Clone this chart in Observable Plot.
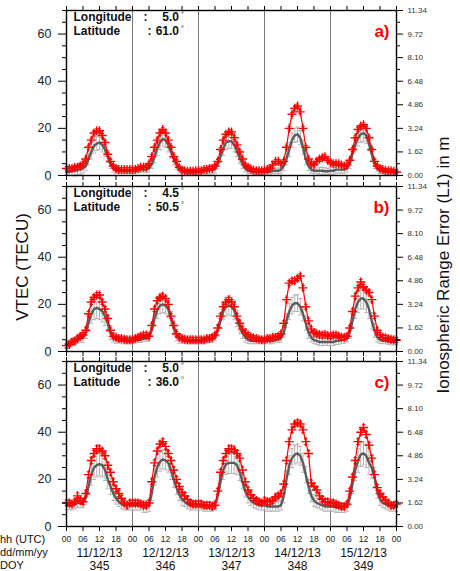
<!DOCTYPE html>
<html><head><meta charset="utf-8">
<script src="https://cdn.jsdelivr.net/npm/d3@7"></script>
<script src="https://cdn.jsdelivr.net/npm/@observablehq/plot@0.6"></script>
<style>
html,body{margin:0;padding:0;background:#fff;}
#wrap{position:relative;width:460px;height:571px;overflow:hidden;background:#fff;font-family:"Liberation Sans",Arial,sans-serif;}
.pn{position:absolute;left:0;}
.pn svg{overflow:visible;}
#ov{position:absolute;left:0;top:0;pointer-events:none;}
</style></head><body><div id="wrap"></div>
<script>
// ---------- DATA (hourly, 5 days: 11/12/13 00UTC .. 16/12/13 00UTC) ----------
const aRed = [
 3,3,3,3.5,3.5,4,5,7, 12,15,18,19,19,17,14,9, 6,4,3,2.5,2.5,2.5,2.5,2.5,
 2.5,2.5,3,3.5,3.5,3.5,5,8, 12,15,18,19.5,18,15,12,8, 6,3.5,2.2,2,1.8,1.8,1.8,2,
 2,2,2.5,2.5,3,3,4,6, 11,15,17.5,18.5,18.5,16,13,10, 7,4.5,3.5,2.8,2.2,2,2,2,
 2.2,2.5,3,4.5,6,6,5,6, 12,20,26,28.5,29.5,27,20,12, 7,5,4.5,6,7,7.5,8,6.5,
 5.5,5,5,5,4.5,4,4.5,6.5, 11,16,19.5,21,21.5,20,16,11, 6,4,3,2.5,2.2,2,2,1.8,
 1.5];
const aGray = [
 1.5,1.5,2,2,2.5,2.5,3,4, 7,10,12.5,13.5,14,13,11,8, 5,3,2,1.8,1.8,1.8,1.8,1.8,
 1.8,2,2.2,2.5,2.5,2.5,3,5, 8,11.5,14,15.5,15,13,10,7, 4.5,2.5,1.8,1.5,1.5,1.5,1.5,1.5,
 1.5,1.5,2,2,2.5,2.5,3,5, 8,11.5,14,14.5,14.5,13,10.5,7.5, 5,3,2,1.8,1.5,1.5,1.5,1.5,
 1.5,1.5,1.5,2,2,2,2.5,4, 7,11,15,17,17.5,16,12,7, 4,2.5,2,2,2,2,1.8,1.8,
 2,2,2.5,2.5,2.5,2.5,3,5, 9,13,16,17.5,18,17,13.5,9, 5,3,2,1.8,1.5,1.5,1.5,1.5,
 1.5];
const aStd = [
 1.2,1.5,2,2.2,2.2,2,2,2, 2.5,3,3,3,3,3,3,2.5, 2,1.5,1.2,1,1,1,1,1,
 1,1,1,1.2,1.2,1.2,1.5,2, 2.5,3,3,3,3,3,2.5,2.5, 2,1.5,1,1,1,1,1,1,
 1,1,1.2,1.5,1.8,1.8,2,2.2, 2.5,3,3,3,3,3,2.5,2.5, 2,1.5,1.2,1,1,1,1,1,
 1,1,1,1.2,1.2,1.2,1.5,2, 2.5,3,3,3,3,3,3,2.5, 2,1.5,1.2,1.2,1.5,1.5,1.5,1.2,
 1.5,1.5,1.5,1.5,1.5,1.5,1.5,2, 2.5,3,3.5,3.5,3.5,3.5,3,2.5, 2,1.5,1.2,1,1,1,1,1,
 1];
const bRed = [
 2.5,3,4,4.5,5.5,6.5,7,9, 16,21,23,24,24,21,18,14, 9,6.5,6,5.5,5.5,5.2,5,5,
 5,5.5,6,6.5,7,7,6.5,11, 18,21.5,23,23.5,22.5,20,15,11, 7.5,6,5.5,5.2,5,5,5,5,
 5,5,5,5.5,5.5,6,7,10, 15,19,21,22,21,19,15,12, 9.5,8,7,6.2,5.8,5.5,5.2,5,
 5,5.5,5.5,6,6,6.5,7.5,12, 22,29,30,30,31,32,27,19, 13,9.5,8,7.5,7.2,7,7.2,6.8,
 6.5,7,7,6.5,6,6,6.5,10, 17,23.5,27,29.5,27.5,26,25,22, 15,9,7,6,5.8,5.5,5.2,5,
 4.8];
const bGray = [
 3,3.5,4,4.5,5,5.5,6,8, 12,16,18,18.5,18,17,15,12, 8,6,5,4.8,4.5,4.5,4.5,4.5,
 4.5,4.8,5,5,5.5,5.5,6,9, 14,17.5,19.5,20,19.5,18,14,10, 7,5.5,5,4.5,4.5,4.5,4.5,4.5,
 4.5,4.5,4.5,4.8,5,5,6,9, 13,17,19,19.5,19,17.5,14,10.5, 8,6,5,4.5,4.5,4.5,4.5,4.5,
 4.5,4.5,4.5,4.5,5,5,5.5,8, 13,17,19.5,20.5,20.5,19,16,12, 8,6,4.8,4.5,4,4,4,4,
 4,4,4.5,4.5,5,5,5.5,8, 13,18,21,22.5,22.5,21,18,13, 9,6,5,4.5,4.5,4.2,4,4,
 4];
const bStd = [
 1.5,1.5,1.5,1.5,1.5,1.5,2,2.5, 3.5,4,4.5,4.5,4.5,4.5,4,3.5, 3,2,1.5,1.2,1.2,1.2,1.2,1.2,
 1.2,1.2,1.2,1.2,1.2,1.2,1.5,2, 3,3.5,3.5,3.5,3.5,3.5,3,3, 2.5,2,1.5,1.2,1.2,1.2,1.2,1.2,
 1.2,1.2,1.2,1.2,1.2,1.2,1.5,2.5, 3,3.5,4,4,4,4,3.5,3, 2.5,2,1.5,1.2,1.2,1.2,1.2,1.2,
 1.2,1.2,1.2,1.2,1.2,1.2,1.5,2, 3,3.5,3.5,3.5,3.5,3.5,3,3, 2.5,2,1.5,1.5,1.5,1.5,1.5,1.5,
 1.5,1.5,1.5,1.5,1.5,1.5,1.5,2.5, 3,4,4.5,4.5,4.5,4.5,4,3.5, 3,2,1.5,1.2,1.2,1.2,1.2,1.2,
 1.2];
const cRed = [
 10,10,9.5,10.5,13,11,10.5,14, 22,28,31,33,33,32,30,26, 23,19,16,14,12,10,9,10,
 10,10,10,9.5,9,9,10,19, 27,32,35,36,34,31,28,24, 20,17,14.5,13,11.5,10,9.5,9.5,
 9.5,9.5,9,9,9,8.5,9,15, 23,28,31,33,33,32.5,31,29, 24,19,15.5,13.5,12,11,10.5,10,
 11,10.5,10.5,11,12.5,13,14,18, 28,36,41,43.5,44,43.5,41,36, 31,18.5,17,15.5,13,11.5,10.5,10.5,
 10,10,9.5,9,8.5,8.5,9.5,15, 21,28,36,40,42,39,34.5,29, 22,16.5,14,12.5,11,10,9,9,
 9.5];
const cGray = [
 9,9,9,9.5,10,10,10,12, 17,22,25,26,26.5,26,24,20, 17,14,12,10.5,9.5,9,9,9,
 9,9,9,9,8.5,8.5,9,14, 21,25,27.5,28.5,28,27,24,20, 16.5,13.5,11.5,10.5,9.5,9,9,9,
 9,9,8.5,8.5,8.5,8.5,9,13, 19,24,26.5,27,27,27,26,23, 19,15,12.5,11,10,9.5,9,9,
 9,8.5,8.5,8.5,8.5,8.5,9,13, 20,26,29,30.5,31,30,27,22, 17,13,11,10,9.5,9,8.5,8.5,
 8.5,8.5,8,8,8,8,8.5,12, 18,24,28,30.5,31,30,27,25, 21,15,11.5,10,9.5,9,8.5,8.5,
 8.5];
const cStd = [
 1.8,1.8,2,2,2,2,2,2.5, 3.5,4.5,5,5,5,5,4.5,4, 3.5,3,2.5,2,2,2,2,2,
 2,2,2,2,2.5,2.5,2.5,3, 3.5,4,4,4,4,4,4,3.5, 3,2.5,2.5,2,2,2,2,2,
 2,2,2,2,2,2,2,3, 3.5,4,4.5,4.5,4.5,4.5,4,3.5, 3,2.5,2.5,2,2,2,2,2,
 2,2,2,2,2,2,2,3, 3.5,4,4,4,4,4,4,3.5, 3,2.5,2.5,2,2,2,2,2,
 2,2,2,2,2,2,2,3, 4,4.5,5,5,5,5,5,4.5, 4,3,2.5,2,2,2,2,2,
 2];
const redErr = [0.8, 1.0, 1.2];
const lonLabels = ["5.0", "4.5", "5.0"];
const latLabels = ["61.0", "50.5", "36.0"];
const panelTags = ["a)", "b)", "c)"];

const dayBreaks = [24, 48, 72, 96];
const dayMid = [12, 36, 60, 84, 108];
const sixHourTicks = [0,6,12,18,24,30,36,42,48,54,60,66,72,78,84,90,96,102,108,114,120];
const hourLabels = ["00", "06", "12", "18"];
const dateLabels = ["11/12/13", "12/12/13", "13/12/13", "14/12/13", "15/12/13"];
const doyLabels = ["345", "346", "347", "348", "349"];
const leftMajor = [0, 20, 40, 60];
const leftMinor = [5,10,15,25,30,35,45,50,55,65,70];
const rightTickVals = [0, 10, 20, 30, 40, 50, 60, 70];
const rightTickLabels = ["0.00","1.62","3.24","4.86","6.48","8.10","9.72","11.34"];
const rightMinor = [5, 15, 25, 35, 45, 55, 65];

// ---------- DRAW ----------
const FONT = "Liberation Sans, Arial, Helvetica, sans-serif";
const cap = { draw(ctx, size) { const r = Math.sqrt(size / Math.PI); ctx.moveTo(-r, 0); ctx.lineTo(r, 0); } };
const wrap = document.getElementById("wrap");

function panel(k, gMean, gStd, rMean, top, isBottom) {
  const rows = gMean.map((g, i) => ({t: i, g, gs: gStd[i], r: rMean[i]}));
  const e = redErr[k];
  const PH = 165, mt = 10, mb = isBottom ? 45 : 10;
  const none = () => "";
  const info = {frameAnchor: "top-left", lineAnchor: "top", fontSize: 12, fontWeight: "bold", fill: "#111", textAnchor: "start"};
  const row1 = 2, row2 = 15.5;
  const marks = [
    Plot.ruleX(dayBreaks, {x: d => d, stroke: "#7a7a7a", strokeWidth: 1}),
    Plot.ruleX(rows, {x: "t", y1: d => d.g - d.gs, y2: d => d.g + d.gs, stroke: "#b3b3b3", strokeWidth: 1}),
    Plot.dot(rows, {x: "t", y: d => d.g - d.gs, symbol: cap, r: 2, stroke: "#b3b3b3", fill: "none", strokeWidth: 1}),
    Plot.dot(rows, {x: "t", y: d => d.g + d.gs, symbol: cap, r: 2, stroke: "#b3b3b3", fill: "none", strokeWidth: 1}),
    Plot.line(rows, {x: "t", y: "g", stroke: "#5c5c5c", strokeWidth: 2.4}),
    Plot.ruleX(rows, {x: "t", y1: d => d.r - e, y2: d => d.r + e, stroke: "#ff0000", strokeWidth: 1}),
    Plot.dot(rows, {x: "t", y: d => d.r - e, symbol: cap, r: 1.8, stroke: "#ff0000", fill: "none", strokeWidth: 1}),
    Plot.dot(rows, {x: "t", y: d => d.r + e, symbol: cap, r: 1.8, stroke: "#ff0000", fill: "none", strokeWidth: 1}),
    Plot.line(rows, {x: "t", y: "r", stroke: "#ff0000", strokeWidth: 1.2}),
    Plot.dot(rows, {x: "t", y: "r", symbol: "plus", r: 3, stroke: "#ff0000", strokeWidth: 1.4}),
    Plot.frame({stroke: "#000", strokeWidth: 1.4}),
    Plot.axisY({ticks: leftMinor, anchor: "left", tickSize: 4, tickFormat: none, label: null, strokeWidth: 1}),
    Plot.axisY({ticks: leftMajor, anchor: "left", tickSize: 8, tickPadding: 7, fontSize: 12.5, label: null, fill: "#222"}),
    Plot.axisY({ticks: rightMinor, anchor: "right", tickSize: 3, tickFormat: none, label: null}),
    Plot.axisY({ticks: rightTickVals, anchor: "right", tickSize: 6, tickPadding: 5, fontSize: 8, fill: "#333", label: null,
      tickFormat: d => rightTickLabels[rightTickVals.indexOf(d)]}),
    Plot.axisX({ticks: sixHourTicks, anchor: "top", tickSize: 5, tickFormat: none, label: null}),
    Plot.axisX({ticks: sixHourTicks, anchor: "bottom", tickSize: 5, tickPadding: 4.5, fontSize: 8.5, label: null, fill: "#222",
      tickFormat: isBottom ? (d => hourLabels[(d % 24) / 6]) : none}),
    Plot.text(["Longitude"], {...info, text: d => d, dx: 7, dy: row1}),
    Plot.text(["Latitude"], {...info, text: d => d, dx: 7, dy: row2}),
    Plot.text([":"], {...info, text: d => d, dx: 77, dy: row1}),
    Plot.text([":"], {...info, text: d => d, dx: 81, dy: row2}),
    Plot.text([lonLabels[k]], {...info, text: d => d, dx: 112.5, dy: row1, textAnchor: "end"}),
    Plot.text([latLabels[k]], {...info, text: d => d, dx: 112.5, dy: row2, textAnchor: "end"}),
    Plot.text(["°"], {text: d => d, frameAnchor: "top-left", lineAnchor: "top", fontSize: 7.5, dx: 114.5, dy: row1 - 0.5, textAnchor: "start", fill: "#111"}),
    Plot.text(["°"], {text: d => d, frameAnchor: "top-left", lineAnchor: "top", fontSize: 7.5, dx: 114.5, dy: row2 - 0.5, textAnchor: "start", fill: "#111"}),
    Plot.text([panelTags[k]], {text: d => d, frameAnchor: "top-right", dx: -7, dy: 14, lineAnchor: "top", textAnchor: "end", fontSize: 17, fontWeight: "bold", fill: "#ff0000"})
  ];
  if (isBottom) {
    marks.push(
      Plot.axisX({ticks: dayMid, anchor: "bottom", tickSize: 0, tickPadding: 21.5, fontSize: 12, label: null, fill: "#111",
        tickFormat: d => dateLabels[dayMid.indexOf(d)]}),
      Plot.axisX({ticks: dayMid, anchor: "bottom", tickSize: 0, tickPadding: 34.5, fontSize: 12, label: null, fill: "#111",
        tickFormat: d => doyLabels[dayMid.indexOf(d)]})
    );
  }
  const svg = Plot.plot({
    width: 460, height: mt + PH + mb,
    marginLeft: 66, marginRight: 64, marginTop: mt, marginBottom: mb,
    style: {overflow: "visible", background: "transparent", fontFamily: FONT},
    x: {domain: [0, 120], axis: null, label: null},
    y: {domain: [0, 70], axis: null, label: null},
    marks
  });
  const div = document.createElement("div");
  div.className = "pn";
  div.style.top = top + "px";
  div.appendChild(svg);
  wrap.appendChild(div);
}

panel(0, aGray, aStd, aRed, 0, false);
panel(1, bGray, bStd, bRed, 175.5, false);
panel(2, cGray, cStd, cRed, 350.5, true);

// titles and row labels
const ov = d3.select(wrap).append("svg").attr("id", "ov").attr("width", 460).attr("height", 571)
  .style("font-family", FONT);
ov.append("text").attr("transform", "translate(28,267) rotate(-90)").attr("text-anchor", "middle")
  .attr("font-size", 17).attr("fill", "#111").text("VTEC (TECU)");
ov.append("text").attr("transform", "translate(449,265) rotate(-90)").attr("text-anchor", "middle")
  .attr("font-size", 17).attr("fill", "#111").text("Ionospheric Range Error (L1) in m");
const rowLabels = [["hh (UTC)", 543], ["dd/mm/yy", 556], ["DOY", 568.5]];
ov.selectAll("text.row").data(rowLabels).join("text").attr("class", "row")
  .attr("x", 0).attr("y", d => d[1]).attr("font-size", 11).attr("fill", "#111").text(d => d[0]);
</script></body></html>
